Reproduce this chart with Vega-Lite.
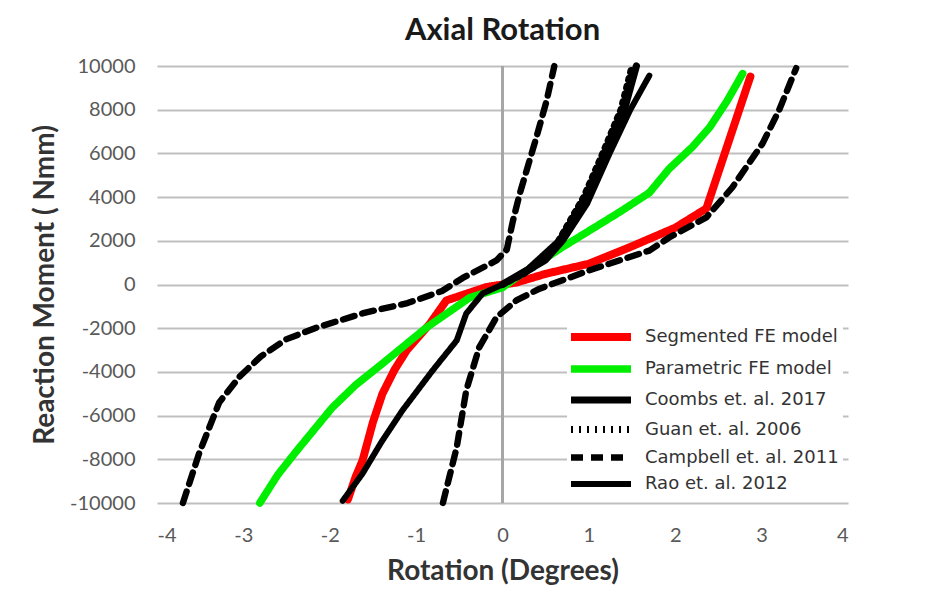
{
  "$schema": "https://vega.github.io/schema/vega-lite/v6.json",
  "autosize": "none",
  "width": 691,
  "height": 437,
  "padding": {"left": 157, "top": 66, "right": 98, "bottom": 94},
  "background": "white",
  "config": {
    "view": {"stroke": null},
    "font": "Lato"
  },
  "title": {
    "text": "Axial Rotation",
    "fontSize": 31,
    "fontWeight": "bold",
    "font": "Lato",
    "color": "#1a1a1a",
    "anchor": "middle",
    "offset": 9
  },
  "data": {
    "values": [
      {"s": "Segmented FE model", "c": "red", "r": -1.79, "m": -9840},
      {"s": "Segmented FE model", "c": "red", "r": -1.7, "m": -8800},
      {"s": "Segmented FE model", "c": "red", "r": -1.62, "m": -8050},
      {"s": "Segmented FE model", "c": "red", "r": -1.5, "m": -6300},
      {"s": "Segmented FE model", "c": "red", "r": -1.39, "m": -5000},
      {"s": "Segmented FE model", "c": "red", "r": -1.25, "m": -3900},
      {"s": "Segmented FE model", "c": "red", "r": -1.11, "m": -3020},
      {"s": "Segmented FE model", "c": "red", "r": -0.84, "m": -1790},
      {"s": "Segmented FE model", "c": "red", "r": -0.65, "m": -730},
      {"s": "Segmented FE model", "c": "red", "r": -0.19, "m": -120},
      {"s": "Segmented FE model", "c": "red", "r": 0.16, "m": 90},
      {"s": "Segmented FE model", "c": "red", "r": 0.51, "m": 500},
      {"s": "Segmented FE model", "c": "red", "r": 1.0, "m": 950},
      {"s": "Segmented FE model", "c": "red", "r": 1.47, "m": 1700},
      {"s": "Segmented FE model", "c": "red", "r": 2.0, "m": 2600},
      {"s": "Segmented FE model", "c": "red", "r": 2.36, "m": 3480},
      {"s": "Segmented FE model", "c": "red", "r": 2.87, "m": 9520},

      {"s": "Parametric FE model", "c": "green", "r": -2.81, "m": -10000},
      {"s": "Parametric FE model", "c": "green", "r": -2.6, "m": -8700},
      {"s": "Parametric FE model", "c": "green", "r": -2.38, "m": -7600},
      {"s": "Parametric FE model", "c": "green", "r": -1.97, "m": -5630},
      {"s": "Parametric FE model", "c": "green", "r": -1.7, "m": -4600},
      {"s": "Parametric FE model", "c": "green", "r": -1.39, "m": -3620},
      {"s": "Parametric FE model", "c": "green", "r": -0.88, "m": -1970},
      {"s": "Parametric FE model", "c": "green", "r": -0.38, "m": -600},
      {"s": "Parametric FE model", "c": "green", "r": 0.0, "m": -140},
      {"s": "Parametric FE model", "c": "green", "r": 0.16, "m": 320},
      {"s": "Parametric FE model", "c": "green", "r": 0.69, "m": 1700},
      {"s": "Parametric FE model", "c": "green", "r": 1.35, "m": 3300},
      {"s": "Parametric FE model", "c": "green", "r": 1.7, "m": 4200},
      {"s": "Parametric FE model", "c": "green", "r": 1.93, "m": 5300},
      {"s": "Parametric FE model", "c": "green", "r": 2.2, "m": 6300},
      {"s": "Parametric FE model", "c": "green", "r": 2.4, "m": 7200},
      {"s": "Parametric FE model", "c": "green", "r": 2.6, "m": 8400},
      {"s": "Parametric FE model", "c": "green", "r": 2.78, "m": 9650},

      {"s": "Coombs et. al. 2017", "c": "coombs", "r": 0.0, "m": 0},
      {"s": "Coombs et. al. 2017", "c": "coombs", "r": 0.3, "m": 700},
      {"s": "Coombs et. al. 2017", "c": "coombs", "r": 0.66, "m": 2000},
      {"s": "Coombs et. al. 2017", "c": "coombs", "r": 0.97, "m": 4000},
      {"s": "Coombs et. al. 2017", "c": "coombs", "r": 1.19, "m": 6000},
      {"s": "Coombs et. al. 2017", "c": "coombs", "r": 1.41, "m": 8000},
      {"s": "Coombs et. al. 2017", "c": "coombs", "r": 1.55, "m": 10000},

      {"s": "Guan et. al. 2006", "c": "guan", "r": 0.0, "m": 0},
      {"s": "Guan et. al. 2006", "c": "guan", "r": 0.25, "m": 500},
      {"s": "Guan et. al. 2006", "c": "guan", "r": 0.62, "m": 1800},
      {"s": "Guan et. al. 2006", "c": "guan", "r": 0.94, "m": 4000},
      {"s": "Guan et. al. 2006", "c": "guan", "r": 1.16, "m": 6000},
      {"s": "Guan et. al. 2006", "c": "guan", "r": 1.37, "m": 8000},
      {"s": "Guan et. al. 2006", "c": "guan", "r": 1.5, "m": 10000},

      {"s": "Campbell et. al. 2011", "c": "campA", "r": -3.7, "m": -10000},
      {"s": "Campbell et. al. 2011", "c": "campA", "r": -3.51, "m": -7700},
      {"s": "Campbell et. al. 2011", "c": "campA", "r": -3.28, "m": -5400},
      {"s": "Campbell et. al. 2011", "c": "campA", "r": -3.04, "m": -4200},
      {"s": "Campbell et. al. 2011", "c": "campA", "r": -2.8, "m": -3300},
      {"s": "Campbell et. al. 2011", "c": "campA", "r": -2.5, "m": -2500},
      {"s": "Campbell et. al. 2011", "c": "campA", "r": -2.15, "m": -1970},
      {"s": "Campbell et. al. 2011", "c": "campA", "r": -1.6, "m": -1300},
      {"s": "Campbell et. al. 2011", "c": "campA", "r": -1.1, "m": -850},
      {"s": "Campbell et. al. 2011", "c": "campA", "r": -0.7, "m": -300},
      {"s": "Campbell et. al. 2011", "c": "campA", "r": -0.46, "m": 300},
      {"s": "Campbell et. al. 2011", "c": "campA", "r": -0.07, "m": 1100},
      {"s": "Campbell et. al. 2011", "c": "campA", "r": 0.05, "m": 1600},
      {"s": "Campbell et. al. 2011", "c": "campA", "r": 0.12, "m": 2900},
      {"s": "Campbell et. al. 2011", "c": "campA", "r": 0.2, "m": 4160},
      {"s": "Campbell et. al. 2011", "c": "campA", "r": 0.3, "m": 5500},
      {"s": "Campbell et. al. 2011", "c": "campA", "r": 0.39, "m": 6700},
      {"s": "Campbell et. al. 2011", "c": "campA", "r": 0.51, "m": 8400},
      {"s": "Campbell et. al. 2011", "c": "campA", "r": 0.6, "m": 10000},

      {"s": "Campbell et. al. 2011", "c": "campB", "r": -0.69, "m": -10000},
      {"s": "Campbell et. al. 2011", "c": "campB", "r": -0.53, "m": -7450},
      {"s": "Campbell et. al. 2011", "c": "campB", "r": -0.42, "m": -4850},
      {"s": "Campbell et. al. 2011", "c": "campB", "r": -0.27, "m": -2880},
      {"s": "Campbell et. al. 2011", "c": "campB", "r": -0.07, "m": -1500},
      {"s": "Campbell et. al. 2011", "c": "campB", "r": 0.16, "m": -730},
      {"s": "Campbell et. al. 2011", "c": "campB", "r": 0.43, "m": -190},
      {"s": "Campbell et. al. 2011", "c": "campB", "r": 1.0, "m": 640},
      {"s": "Campbell et. al. 2011", "c": "campB", "r": 1.7, "m": 1550},
      {"s": "Campbell et. al. 2011", "c": "campB", "r": 1.93, "m": 2150},
      {"s": "Campbell et. al. 2011", "c": "campB", "r": 2.36, "m": 3070},
      {"s": "Campbell et. al. 2011", "c": "campB", "r": 2.66, "m": 4440},
      {"s": "Campbell et. al. 2011", "c": "campB", "r": 3.01, "m": 6450},
      {"s": "Campbell et. al. 2011", "c": "campB", "r": 3.2, "m": 7960},
      {"s": "Campbell et. al. 2011", "c": "campB", "r": 3.4, "m": 9900},

      {"s": "Rao et. al. 2012", "c": "rao", "r": -1.85, "m": -9900},
      {"s": "Rao et. al. 2012", "c": "rao", "r": -1.62, "m": -8650},
      {"s": "Rao et. al. 2012", "c": "rao", "r": -1.4, "m": -7200},
      {"s": "Rao et. al. 2012", "c": "rao", "r": -1.16, "m": -5770},
      {"s": "Rao et. al. 2012", "c": "rao", "r": -0.81, "m": -3940},
      {"s": "Rao et. al. 2012", "c": "rao", "r": -0.53, "m": -2560},
      {"s": "Rao et. al. 2012", "c": "rao", "r": -0.42, "m": -1330},
      {"s": "Rao et. al. 2012", "c": "rao", "r": -0.23, "m": -410},
      {"s": "Rao et. al. 2012", "c": "rao", "r": 0.0, "m": 0},
      {"s": "Rao et. al. 2012", "c": "rao", "r": 0.25, "m": 500},
      {"s": "Rao et. al. 2012", "c": "rao", "r": 0.5, "m": 1100},
      {"s": "Rao et. al. 2012", "c": "rao", "r": 0.7, "m": 2000},
      {"s": "Rao et. al. 2012", "c": "rao", "r": 0.98, "m": 3700},
      {"s": "Rao et. al. 2012", "c": "rao", "r": 1.24, "m": 6000},
      {"s": "Rao et. al. 2012", "c": "rao", "r": 1.48, "m": 8000},
      {"s": "Rao et. al. 2012", "c": "rao", "r": 1.7, "m": 9560}
    ]
  },
  "layer": [
    {
      "mark": {"type": "rule", "color": "#a6a6a6", "strokeWidth": 2},
      "encoding": {"x": {"datum": 0, "type": "quantitative"}}
    },
    {
      "mark": {"type": "line", "strokeCap": "round", "strokeJoin": "round"},
      "encoding": {
        "x": {
          "field": "r", "type": "quantitative",
          "scale": {"domain": [-4, 4], "nice": false, "zero": false},
          "axis": {
            "values": [-4, -3, -2, -1, 0, 1, 2, 3, 4],
            "labelExpr": "toString(datum.value)",
            "grid": false, "domain": false, "ticks": false,
            "labelPadding": 22, "labelFontSize": 20, "labelColor": "#595959",
            "labelFont": "Lato",
            "title": "Rotation (Degrees)", "titleFontSize": 28, "titleFontWeight": "bold",
            "titleColor": "#333333", "titleFont": "Lato", "titlePadding": 12
          }
        },
        "y": {
          "field": "m", "type": "quantitative",
          "scale": {"domain": [-10000, 10000], "nice": false},
          "axis": {
            "values": [-10000, -8000, -6000, -4000, -2000, 0, 2000, 4000, 6000, 8000, 10000],
            "labelExpr": "toString(datum.value)",
            "grid": true, "gridColor": "#bfbfbf", "gridWidth": 2,
            "domain": false, "ticks": false,
            "labelPadding": 22, "labelFontSize": 20, "labelColor": "#595959",
            "labelFont": "Lato",
            "title": "Reaction Moment ( Nmm)", "titleFontSize": 28, "titleFontWeight": "bold",
            "titleColor": "#333333", "titleFont": "Lato", "titlePadding": 10
          }
        },
        "detail": {"field": "c"},
        "order": {"field": "m", "type": "quantitative"},
        "color": {
          "field": "s", "type": "nominal",
          "scale": {
            "domain": ["Segmented FE model", "Parametric FE model", "Coombs et. al. 2017", "Guan et. al. 2006", "Campbell et. al. 2011", "Rao et. al. 2012"],
            "range": ["#ff0000", "#00ee00", "#000000", "#000000", "#000000", "#000000"]
          },
          "legend": {
            "title": null,
            "orient": "none",
            "legendX": 410,
            "legendY": 253,
            "fillColor": "white",
            "padding": 4,
            "symbolType": "M-3,0H3",
            "symbolSize": 400,
            "symbolOffset": 16,
            "rowPadding": 0,
            "labelFont": "DejaVu Sans",
            "labelFontSize": 18,
            "labelColor": "#333333",
            "labelOffset": 30,
            "labelLimit": 300
          }
        },
        "strokeWidth": {
          "field": "s", "type": "nominal",
          "scale": {
            "domain": ["Segmented FE model", "Parametric FE model", "Coombs et. al. 2017", "Guan et. al. 2006", "Campbell et. al. 2011", "Rao et. al. 2012"],
            "range": [8, 6, 5, 2, 4, 2.5]
          },
          "legend": null
        },
        "strokeDash": {
          "field": "s", "type": "nominal",
          "scale": {
            "domain": ["Segmented FE model", "Parametric FE model", "Coombs et. al. 2017", "Guan et. al. 2006", "Campbell et. al. 2011", "Rao et. al. 2012"],
            "range": [[1, 0], [1, 0], [1, 0], [2, 6], [12, 8], [1, 0]]
          },
          "legend": null
        }
      }
    }
  ]
}
